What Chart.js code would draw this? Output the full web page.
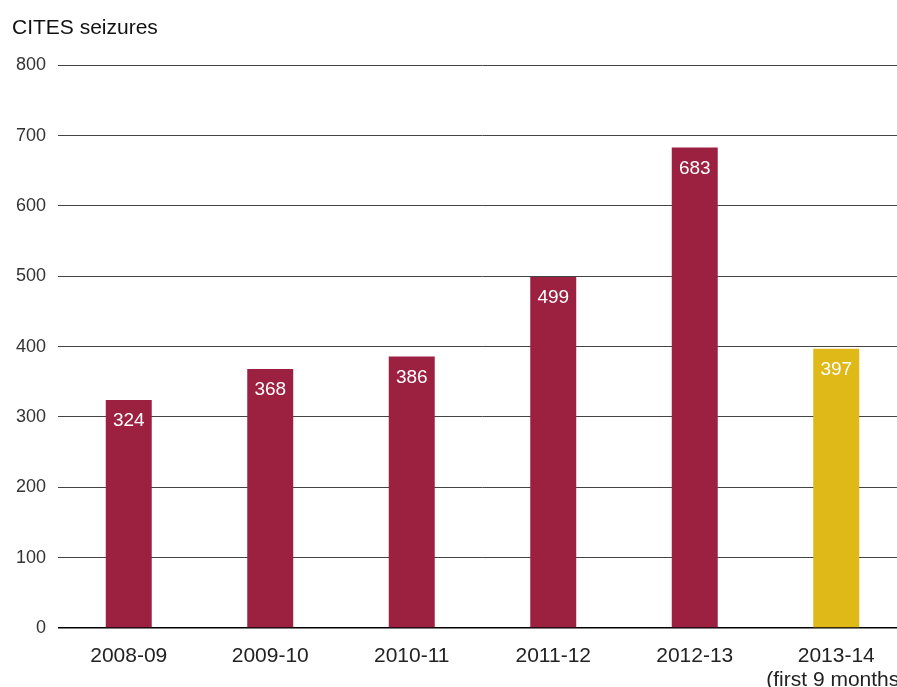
<!DOCTYPE html>
<html>
<head>
<meta charset="utf-8">
<script src="https://cdn.jsdelivr.net/npm/chart.js@4/dist/chart.umd.min.js"></script>
<style>
  html, body { margin: 0; padding: 0; background: #fff; overflow: hidden; }
  canvas { display: block; }
</style>
</head>
<body>
<canvas id="seizures" width="910" height="687"></canvas>
<script>
const years = ['2008-09', '2009-10', '2010-11', '2011-12', '2012-13', ['2013-14', '(first 9 months)']]
const seizures = [324, 368, 386, 499, 683, 397]
const barColours = ['#9c2140', '#9c2140', '#9c2140', '#9c2140', '#9c2140', '#dfb917']

const FONT = "'Liberation Sans', Arial, sans-serif"

// draws the value inside the top of each bar
const valueLabels = {
  id: 'valueLabels',
  afterDatasetsDraw(chart) {
    const ctx = chart.ctx
    const meta = chart.getDatasetMeta(0)
    ctx.save()
    ctx.fillStyle = '#fff'
    ctx.font = '19px ' + FONT
    ctx.textAlign = 'center'
    ctx.textBaseline = 'middle'
    meta.data.forEach((bar, i) => {
      ctx.fillText(seizures[i], bar.x, bar.y + 21)
    })
    ctx.restore()
  }
}

const config = {
  type: 'bar',
  data: {
    labels: years,
    datasets: [{
      data: seizures,
      backgroundColor: barColours,
      barPercentage: 0.325,
      categoryPercentage: 1
    }]
  },
  options: {
    responsive: false,
    animation: false,
    layout: { padding: { left: 12, right: 3, top: 0, bottom: 0 } },
    plugins: {
      legend: { display: false },
      tooltip: { enabled: false },
      title: {
        display: true,
        text: 'CITES seizures',
        align: 'start',
        color: '#111',
        font: { family: FONT, size: 21, weight: 'normal' },
        padding: { top: 16, bottom: 24 }
      }
    },
    scales: {
      x: {
        grid: { display: false },
        border: { display: false },
        ticks: {
          color: '#222',
          font: { family: FONT, size: 21, lineHeight: 1.15 },
          padding: 8,
          maxRotation: 0,
          autoSkip: false
        },
        afterFit(scale) {
          scale.height = 59
          scale.paddingLeft = 0
          scale.paddingRight = 0
        }
      },
      y: {
        min: 0,
        max: 800,
        border: { display: false },
        grid: {
          drawTicks: false,
          color: ctx => ctx.tick.value === 0 ? '#000' : '#444',
          lineWidth: ctx => ctx.tick.value === 0 ? 1.5 : 1
        },
        ticks: {
          stepSize: 100,
          color: '#333',
          font: { family: FONT, size: 18 },
          padding: 12
        },
        afterFit(scale) {
          scale.width = 46
        }
      }
    }
  },
  plugins: [valueLabels]
}

const seizuresChart = new Chart(document.getElementById('seizures'), config)
</script>
</body>
</html>
